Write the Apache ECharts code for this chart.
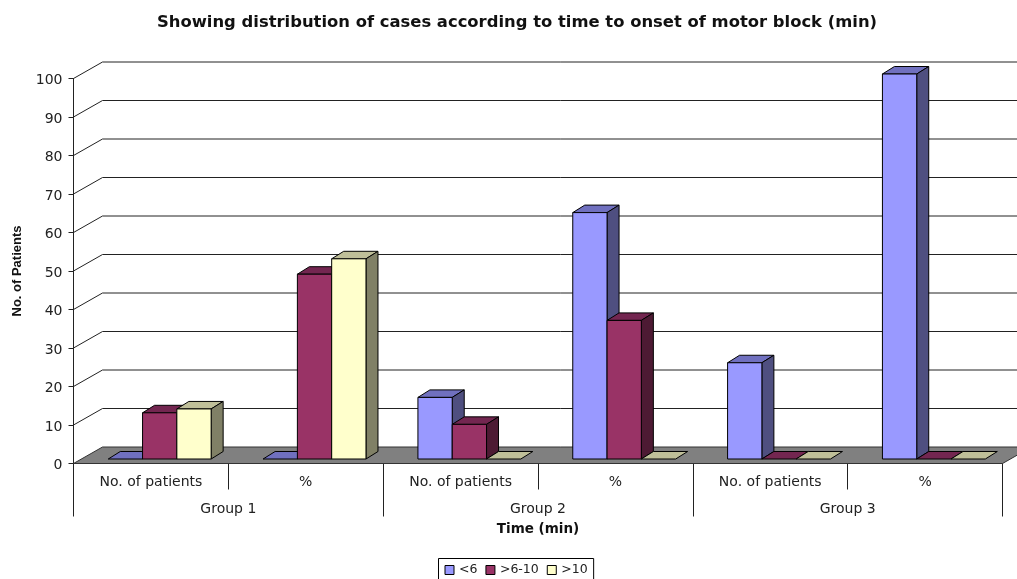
<!DOCTYPE html>
<html><head><meta charset="utf-8">
<style>html,body{margin:0;padding:0;background:#fff}#c{width:1017px;height:579px}</style>
<script src="https://cdn.jsdelivr.net/npm/echarts@6/dist/echarts.min.js"></script>
</head><body><div id="c"></div>
<script>
const categories = ['No. of patients','%','No. of patients','%','No. of patients','%'];
const groups = ['Group 1','Group 2','Group 3'];
const seriesNames = ['<6','>6-10','>10'];
const lessThan6 = [0,0,16,64,25,100];
const from6to10 = [12,48,9,36,0,0];
const over10 = [13,52,0,0,0,0];
const yTicks = [0,10,20,30,40,50,60,70,80,90,100];

const palette = [
  {front:'#9999FF', top:'#7070BF', side:'#4F4F80'},
  {front:'#993366', top:'#732650', side:'#4D1A33'},
  {front:'#FFFFCC', top:'#BFBF99', side:'#808066'}
];
const WALL_DX = 29, WALL_DY = -16.5;
const BAR_DX = 12, BAR_DY = -7.5, BAR_BASE = -4.5;
const FONT = '"DejaVu Sans"';

function barSeries(idx, values){
  return {
    type:'custom', name:seriesNames[idx], z:5+idx, coordinateSystem:'cartesian2d',
    itemStyle:{color:palette[idx].front, borderColor:'#000', borderWidth:1},
    data:values.map((v,i)=>[i,v]),
    encode:{x:0,y:1},
    renderItem(params, api){
      const i = api.value(0), v = api.value(1);
      const band = api.size([1,0])[0];
      const base = api.coord([i,0]), head = api.coord([i,v]);
      const w = band*0.2215;
      const x0 = base[0]-band/2+band*0.2245+idx*w, x1 = x0+w;
      const yb = base[1]+BAR_BASE, yt = head[1]+BAR_BASE;
      const s = {stroke:'#000', lineWidth:1};
      const c = palette[idx];
      const poly = (pts, fill)=>({type:'polygon', shape:{points:pts}, style:Object.assign({fill}, s)});
      const kids = [
        poly([[x0,yt],[x1,yt],[x1+BAR_DX,yt+BAR_DY],[x0+BAR_DX,yt+BAR_DY]], c.top)
      ];
      if (v > 0) {
        kids.push(poly([[x1,yb],[x1,yt],[x1+BAR_DX,yt+BAR_DY],[x1+BAR_DX,yb+BAR_DY]], c.side));
        kids.push(poly([[x0,yb],[x1,yb],[x1,yt],[x0,yt]], c.front));
      }
      return {type:'group', children:kids};
    }
  };
}

const wallSeries = {
  type:'custom', name:'walls', z:2, silent:true, legendHoverLink:false,
  data:yTicks.map(t=>[0,t]), encode:{x:0,y:1},
  renderItem(params, api){
    const t = api.value(1);
    const band = api.size([1,0])[0];
    const p = api.coord([0,t]);
    const x0 = p[0]-band/2, x1 = x0+band*categories.length;
    const style = {stroke:'#222', lineWidth:1, fill:null};
    const kids = [];
    if (t === 0) {
      kids.push({type:'polygon', shape:{points:[[x0,p[1]],[x1,p[1]],[x1+WALL_DX,p[1]+WALL_DY],[x0+WALL_DX,p[1]+WALL_DY]]},
        style:{fill:'#808080', stroke:'#333', lineWidth:1}});
    } else {
      kids.push({type:'polyline', shape:{points:[[x0,p[1]],[x0+WALL_DX,p[1]+WALL_DY],[x1+WALL_DX,p[1]+WALL_DY]]}, style});
    }
    return {type:'group', children:kids};
  }
};

const chart = echarts.init(document.getElementById('c'), null, {renderer:'canvas'});
chart.setOption({
  animation:false,
  backgroundColor:'#fff',
  title:{text:'Showing distribution of cases according to time to onset of motor block (min)',
    left:512, top:10, textAlign:'center',
    textStyle:{fontFamily:FONT, fontSize:16.4, fontWeight:'bold', color:'#111'}},
  legend:{
    data:seriesNames.map(n=>({name:n, icon:'rect'})),
    left:438.5, top:558.5, orient:'horizontal', itemWidth:9, itemHeight:9, itemGap:8,
    padding:[5,6,8,6], borderColor:'#000', borderWidth:1,
    textStyle:{fontFamily:FONT, fontSize:12.5, color:'#222'},
    itemStyle:{borderColor:'#000', borderWidth:1}
  },
  grid:{left:73.5, top:78.5, width:929, height:385, containLabel:false, outerBoundsMode:'none'},
  xAxis:[
    {type:'category', data:categories, position:'bottom', boundaryGap:true,
      axisLine:{show:true, lineStyle:{color:'#222'}},
      axisTick:{show:true, length:26, lineStyle:{color:'#222'}, interval:0},
      axisLabel:{interval:0, margin:12, fontFamily:FONT, fontSize:14, color:'#222'},
      name:'Time (min)', nameLocation:'middle', nameGap:59,
      nameTextStyle:{fontFamily:FONT, fontSize:13.5, fontWeight:'bold', color:'#111'}
    },
    {type:'category', data:groups, position:'bottom', boundaryGap:true,
      axisLine:{show:false},
      axisTick:{show:true, length:53, lineStyle:{color:'#222'}, interval:0},
      axisLabel:{interval:0, margin:39, fontFamily:FONT, fontSize:14, color:'#222'}}
  ],
  yAxis:{type:'value', min:0, max:100, interval:10,
    axisLine:{show:true, lineStyle:{color:'#222'}},
    axisTick:{show:true, length:5, lineStyle:{color:'#222'}},
    splitLine:{show:false},
    axisLabel:{margin:11, formatter:'{a|{value}}',
      rich:{a:{padding:[4,0,0,0], fontFamily:FONT, fontSize:14, color:'#222'}}},
    name:'No. of Patients', nameLocation:'middle', nameGap:50, nameRotate:90,
    nameTextStyle:{fontFamily:'"Liberation Sans"', fontSize:13, fontWeight:'bold', color:'#111'}
  },
  series:[wallSeries, barSeries(0,lessThan6), barSeries(1,from6to10), barSeries(2,over10)]
});
</script></body></html>
